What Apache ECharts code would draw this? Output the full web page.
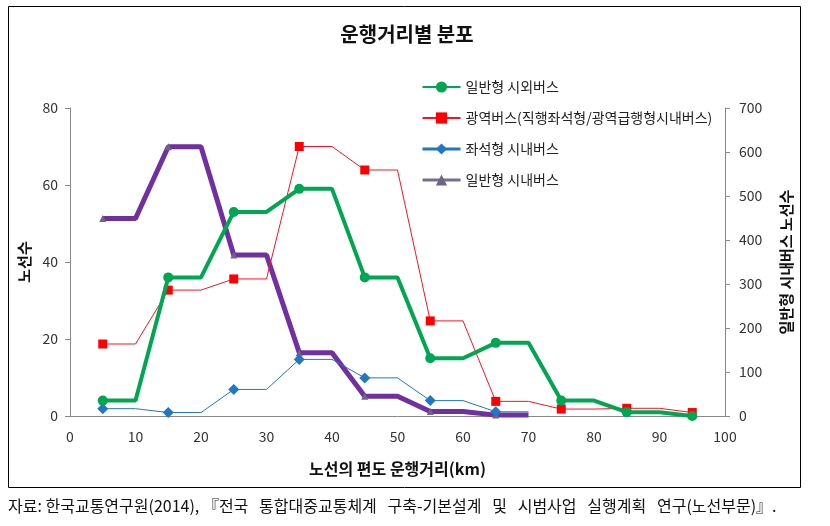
<!DOCTYPE html>
<html>
<head>
<meta charset="utf-8">
<script src="https://cdn.jsdelivr.net/npm/echarts@6/dist/echarts.min.js"></script>
<style>
  html, body { margin: 0; padding: 0; background: #fff; }
  #chart { width: 830px; height: 526px; }
</style>
</head>
<body>
<div id="chart"></div>
<script>
  // 구간 중앙값 (km)
  var xCenters = [5, 15, 25, 35, 45, 55, 65, 75, 85, 95];
  var seriesNames = ['일반형 시외버스', '광역버스(직행좌석형/광역급행형시내버스)', '좌석형 시내버스', '일반형 시내버스'];
  // 좌축 (노선수)
  var intercityVals = [4, 36, 53, 59, 36, 15, 19, 4, 1, 0];
  var wideAreaVals = [18.7, 32.7, 35.6, 70, 63.9, 24.7, 3.8, 1.8, 2, 0.9];
  var seatVals = [1.9, 0.9, 6.9, 14.7, 9.9, 4, 1.1];
  // 우축 (일반형 시내버스 노선수)
  var cityVals = [449, 612, 366, 144, 45, 10, 2];
  var xTicks = [0, 100, 10];
  var leftTicks = [0, 80, 20];
  var rightTicks = [0, 700, 100];

  var font = '"Noto Sans CJK KR", sans-serif';

  // 각 구간: 중앙점에 마커, 구간 끝까지 수평선
  function stepData(vals, extendLast) {
    var out = [];
    for (var i = 0; i < vals.length; i++) {
      out.push({value: [xCenters[i], vals[i]]});
      if (i < vals.length - 1 || extendLast) {
        out.push({value: [xCenters[i] + 5, vals[i]], symbol: 'none'});
      }
    }
    return out;
  }

  var myChart = echarts.init(document.getElementById('chart'));
  myChart.setOption({
    animation: false,
    textStyle: {fontFamily: font},
    title: {
      text: '운행거리별 분포',
      left: 402,
      top: 19,
      textAlign: 'center',
      textStyle: {fontSize: 20, fontWeight: 'bold', color: '#111', fontFamily: font}
    },
    legend: {
      orient: 'vertical',
      left: 416,
      top: 75,
      itemWidth: 38,
      itemHeight: 14,
      itemGap: 17,
      textStyle: {fontSize: 14, lineHeight: 14, color: '#222', fontFamily: font},
      data: [
        {name: seriesNames[0]},
        {name: seriesNames[1]},
        {name: seriesNames[2], lineStyle: {width: 3}},
        {name: seriesNames[3], lineStyle: {width: 3, color: '#77708a'}}
      ]
    },
    grid: {left: 70, right: 105, top: 108, bottom: 110},
    xAxis: {
      type: 'value',
      min: xTicks[0],
      max: xTicks[1],
      interval: xTicks[2],
      name: '노선의 편도 운행거리(km)',
      nameLocation: 'middle',
      nameGap: 45,
      nameTextStyle: {fontSize: 16, fontWeight: 'bold', color: '#111'},
      axisLine: {lineStyle: {color: '#888'}},
      axisTick: {show: false},
      axisLabel: {fontSize: 14, color: '#333', margin: 14},
      splitLine: {show: false}
    },
    yAxis: [{
      type: 'value',
      min: leftTicks[0],
      max: leftTicks[1],
      interval: leftTicks[2],
      name: '노선수',
      nameLocation: 'middle',
      nameRotate: 90,
      nameGap: 22,
      nameTextStyle: {fontSize: 15, fontWeight: 'bold', color: '#111'},
      axisLine: {show: true, lineStyle: {color: '#888'}},
      axisTick: {show: true, length: 5, lineStyle: {color: '#888'}},
      axisLabel: {fontSize: 14, color: '#333', margin: 12},
      splitLine: {show: false}
    }, {
      type: 'value',
      min: rightTicks[0],
      max: rightTicks[1],
      interval: rightTicks[2],
      position: 'right',
      name: '일반형 시내버스 노선수',
      nameLocation: 'middle',
      nameRotate: 90,
      nameGap: 54,
      nameTextStyle: {fontSize: 15, fontWeight: 'bold', color: '#111'},
      axisLine: {show: true, lineStyle: {color: '#888'}},
      axisTick: {show: true, length: 5, lineStyle: {color: '#888'}},
      axisLabel: {fontSize: 14, color: '#333', margin: 14},
      splitLine: {show: false}
    }],
    series: [{
      name: seriesNames[0],
      type: 'line',
      yAxisIndex: 0,
      data: stepData(intercityVals, false),
      symbol: 'circle',
      symbolSize: 10,
      color: '#00A651',
      lineStyle: {width: 4, color: '#00A651'},
      z: 4
    }, {
      name: seriesNames[1],
      type: 'line',
      yAxisIndex: 0,
      data: stepData(wideAreaVals, false),
      symbol: 'rect',
      symbolSize: 9,
      color: '#FF0000',
      lineStyle: {width: 1, color: '#FF1020'},
      z: 3
    }, {
      name: seriesNames[2],
      type: 'line',
      yAxisIndex: 0,
      data: stepData(seatVals, true),
      symbol: 'diamond',
      symbolSize: 11,
      color: '#1F77C8',
      lineStyle: {width: 1, color: '#1F77C8'},
      z: 3
    }, {
      name: seriesNames[3],
      type: 'line',
      yAxisIndex: 1,
      data: stepData(cityVals, true),
      symbol: 'triangle',
      symbolSize: 7,
      color: '#7030A0',
      itemStyle: {color: '#6e6585'},
      lineStyle: {width: 5, color: '#7030A0'},
      z: 2
    }],
    graphic: [{
      type: 'rect',
      shape: {x: 8.5, y: 6.5, width: 792, height: 481},
      style: {fill: 'none', stroke: '#000', lineWidth: 1},
      silent: true
    }, {
      type: 'text',
      left: 8,
      top: 498,
      style: {
        text: '자료: 한국교통연구원(2014), 『전국   통합대중교통체계   구축-기본설계   및   시범사업   실행계획   연구(노선부문)』.',
        font: '16px "Noto Sans CJK KR", sans-serif',
        fill: '#111'
      }
    }]
  });
</script>
</body>
</html>
